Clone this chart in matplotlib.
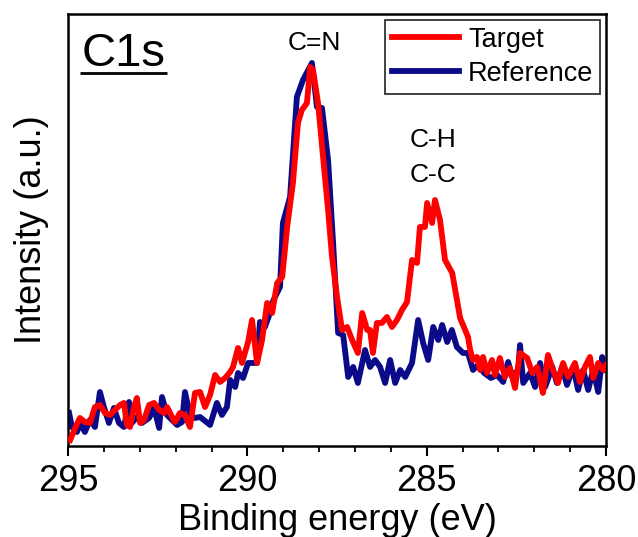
import matplotlib
matplotlib.use("Agg")
import matplotlib.pyplot as plt
from matplotlib.ticker import MultipleLocator
from matplotlib.lines import Line2D

plt.rcParams['font.family'] = ['Liberation Sans', 'DejaVu Sans']

# C1s spectrum, binding energy (eV) and intensity (a.u.)
target_energy = [
    294.94, 294.80, 294.67, 294.53, 294.39, 294.25, 294.11, 293.97, 293.83, 293.69,
    293.55, 293.44, 293.36, 293.27, 293.16, 293.08, 292.99, 292.88, 292.74, 292.60,
    292.46, 292.32, 292.24, 292.10, 292.02, 291.88, 291.74, 291.60, 291.46, 291.32,
    291.18, 291.04, 290.90, 290.76, 290.62, 290.48, 290.40, 290.26, 290.15, 289.98,
    289.87, 289.73, 289.59, 289.45, 289.31, 289.17, 289.03, 288.89, 288.73, 288.59,
    288.48, 288.34, 288.25, 288.17, 288.03, 287.89, 287.75, 287.64, 287.50, 287.36,
    287.22, 287.08, 286.92, 286.80, 286.66, 286.58, 286.50, 286.39, 286.25, 286.11,
    285.97, 285.83, 285.69, 285.55, 285.41, 285.27, 285.19, 285.05, 284.99, 284.85,
    284.77, 284.63, 284.49, 284.29, 284.07, 283.93, 283.85, 283.79, 283.71, 283.60,
    283.51, 283.43, 283.32, 283.18, 283.10, 282.96, 282.82, 282.68, 282.54, 282.40,
    282.20, 282.06, 281.92, 281.76, 281.62, 281.48, 281.34, 281.20, 281.06, 280.87,
    280.73, 280.59, 280.45, 280.36, 280.22, 280.08, 280.00,
]
target_intensity = [
    6, 18, 28, 24, 23, 39, 41, 33, 31, 36,
    41, 43, 21, 19, 39, 48, 23, 26, 41, 43,
    36, 33, 39, 29, 24, 33, 31, 19, 53, 54,
    39, 51, 71, 64, 68, 74, 79, 98, 83, 104,
    126, 83, 106, 143, 133, 163, 169, 219, 263, 323,
    336, 343, 379, 376, 343, 289, 236, 189, 149, 116,
    119, 106, 93, 133, 116, 116, 93, 123, 123, 129,
    119, 126, 136, 144, 186, 183, 219, 219, 243, 223,
    246, 226, 186, 173, 128, 116, 109, 96, 86, 89,
    76, 89, 73, 86, 71, 88, 69, 78, 58, 93,
    88, 73, 79, 53, 91, 76, 63, 83, 69, 83,
    64, 79, 89, 68, 83, 76, 81,
]

reference_energy = [
    294.97, 294.89, 294.75, 294.67, 294.53, 294.39, 294.25, 294.11, 294.00, 293.86,
    293.72, 293.58, 293.44, 293.30, 293.22, 293.08, 292.94, 292.74, 292.60, 292.46,
    292.38, 292.24, 292.10, 291.96, 291.82, 291.74, 291.60, 291.46, 291.32, 291.04,
    290.85, 290.71, 290.57, 290.48, 290.34, 290.26, 290.12, 289.98, 289.73, 289.65,
    289.51, 289.37, 289.31, 289.09, 289.01, 288.81, 288.62, 288.45, 288.20, 288.06,
    287.92, 287.75, 287.61, 287.47, 287.33, 287.19, 287.05, 286.92, 286.72, 286.58,
    286.44, 286.30, 286.16, 286.02, 285.88, 285.74, 285.60, 285.41, 285.24, 285.10,
    284.96, 284.82, 284.68, 284.57, 284.43, 284.30, 284.16, 283.99, 283.85, 283.71,
    283.57, 283.40, 283.21, 283.04, 282.87, 282.73, 282.62, 282.45, 282.40, 282.31,
    282.12, 281.98, 281.84, 281.70, 281.50, 281.37, 281.23, 281.09, 280.92, 280.78,
    280.64, 280.50, 280.36, 280.22, 280.11, 280.03,
]
reference_intensity = [
    33, 19, 14, 23, 14, 26, 19, 54, 39, 23,
    38, 23, 19, 44, 23, 29, 23, 28, 38, 18,
    49, 31, 26, 21, 24, 54, 31, 28, 29, 21,
    43, 31, 39, 66, 59, 73, 68, 83, 83, 124,
    119, 133, 143, 159, 223, 249, 349, 366, 383, 339,
    338, 286, 203, 113, 111, 69, 79, 63, 96, 79,
    86, 79, 63, 86, 63, 76, 69, 83, 126, 103,
    86, 119, 106, 121, 104, 116, 99, 93, 93, 76,
    81, 73, 68, 71, 64, 84, 69, 76, 101, 63,
    73, 59, 83, 59, 79, 63, 79, 61, 79, 56,
    76, 56, 76, 54, 89, 76,
]

# Peak assignments: label, energy (eV), baseline height (a.u.)
peak_labels = ["C=N", "C-H", "C-C"]
peak_positions = [288.14, 284.82, 284.82]
peak_heights = [396, 299, 264]

fig = plt.figure(figsize=(6.38, 5.37), dpi=100)
ax = fig.add_axes([0.1066, 0.1695, 0.8434, 0.8045])

ax.plot(reference_energy, reference_intensity, color="#0b0b8a", lw=4.2,
        solid_joinstyle="round", label="Reference", zorder=2)
ax.plot(target_energy, target_intensity, color="#ff0000", lw=4.2,
        solid_joinstyle="round", label="Target", zorder=3)

ax.set_xlim(295, 280)
ax.set_ylim(0, 432)
ax.xaxis.set_major_locator(MultipleLocator(5))
ax.xaxis.set_minor_locator(MultipleLocator(1))
ax.set_yticks([])
ax.tick_params(axis="x", which="major", direction="out", length=7, width=1.5,
               labelsize=26, pad=6, top=False)
ax.tick_params(axis="x", which="minor", direction="out", length=4, width=1.3, top=False)
for sp in ax.spines.values():
    sp.set_linewidth(1.8)

ax.set_xlabel("Binding energy (eV)", fontsize=26)
ax.xaxis.set_label_coords(0.5, -0.132)
ax.set_ylabel("Intensity (a.u.)", fontsize=26)
ax.yaxis.set_label_coords(-0.036, 0.5)

ax.text(0.025, 0.958, "C1s", transform=ax.transAxes, fontsize=34,
        ha="left", va="top")
ax.plot([0.0223, 0.184], [0.863, 0.863], transform=ax.transAxes, color="black",
        lw=2.0, solid_capstyle="butt", clip_on=False)

for lab, pos, h in zip(peak_labels, peak_positions, peak_heights):
    ax.text(pos, h, lab, fontsize=19, ha="center", va="baseline")

handles = [Line2D([], [], color="#ff0000", lw=4.2),
           Line2D([], [], color="#0b0b8a", lw=4.2)]
leg = ax.legend(handles, ["Target", "Reference"], loc="upper right",
                bbox_to_anchor=(0.989, 0.986), fontsize=19.5, frameon=True,
                fancybox=False, edgecolor="black", borderpad=0.25,
                handlelength=2.45, handletextpad=0.35, labelspacing=0.3,
                borderaxespad=0.0)
leg.get_frame().set_linewidth(1.3)

fig.savefig("out.png", dpi=100)
